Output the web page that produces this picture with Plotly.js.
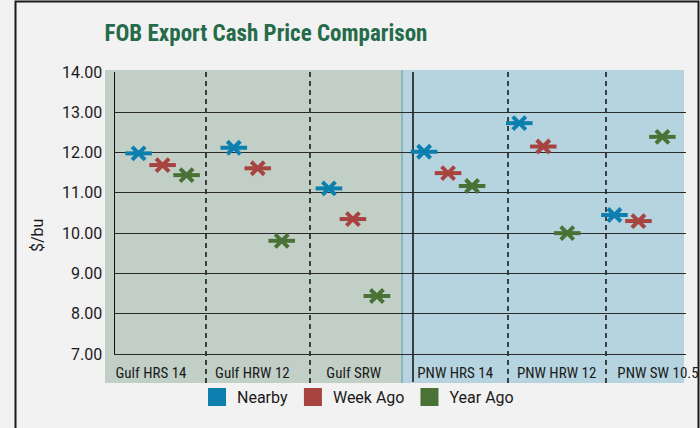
<!DOCTYPE html>
<html>
<head>
<meta charset="utf-8">
<script src="https://cdn.plot.ly/plotly-3.0.1.min.js"></script>
<style>
  html, body { margin: 0; padding: 0; background: #f2f2f2; }
  #chart { width: 700px; height: 428px; }
</style>
</head>
<body>
<div id="chart"></div>
<script>
// ---- data ----
const categories = ['Gulf HRS 14', 'Gulf HRW 12', 'Gulf SRW', 'PNW HRS 14', 'PNW HRW 12', 'PNW SW 10.5'];
const seriesNames = ['Nearby', 'Week Ago', 'Year Ago'];
const nearby  = [11.98, 12.12, 11.11, 12.02, 12.73, 10.45];
const weekAgo = [11.69, 11.61, 10.35, 11.49, 12.15, 10.30];
const yearAgo = [11.44,  9.81,  8.44, 11.17, 10.00, 12.39];
const yTickVals = [7, 8, 9, 10, 11, 12, 13, 14];

// ---- styles ----
const seriesColors = ['#0c7fae', '#a8443f', '#4a7236'];
const seriesOffsets = [-0.252, 0, 0.252];
const condensed = '"Liberation Sans Narrow", "Roboto Condensed", Roboto, sans-serif';
const regular = 'Roboto, "Liberation Sans", sans-serif';

const seriesValues = [nearby, weekAgo, yearAgo];
const traces = [];
seriesValues.forEach((vals, s) => {
  const xs = vals.map((v, i) => i + seriesOffsets[s]);
  // horizontal bar of the marker
  traces.push({
    type: 'scatter', mode: 'markers', x: xs, y: vals, showlegend: false, hoverinfo: 'skip',
    marker: { symbol: 'line-ew-open', size: 19, color: seriesColors[s], line: { width: 4, color: seriesColors[s] } }
  });
  // diagonal cross of the marker
  traces.push({
    type: 'scatter', mode: 'markers', x: xs, y: vals, showlegend: false, hoverinfo: 'skip',
    marker: { symbol: 'x-thin-open', size: 13, color: seriesColors[s], line: { width: 4, color: seriesColors[s] } }
  });
});
// legend entries (square swatches), attached to the label axis
seriesNames.forEach((name, s) => {
  traces.push({
    type: 'scatter', mode: 'markers', x: [null], y: [null], name: name, xaxis: 'x2', hoverinfo: 'skip',
    marker: { symbol: 'square', size: 16, color: seriesColors[s], line: { width: 2, color: seriesColors[s] } }
  });
});

// pixel -> paper helpers for decorations (plot area 115..686 x 72..354)
const L = 115, R = 686, T = 72, B = 354;
const px = p => (p - L) / (R - L);
const py = p => (B - p) / (B - T);

const shapes = [
  { type: 'rect', xref: 'paper', yref: 'paper', x0: px(105), x1: px(403), y0: py(383), y1: py(70),
    fillcolor: '#c1cfc7', line: { width: 0 }, layer: 'below' },
  { type: 'rect', xref: 'paper', yref: 'paper', x0: px(401), x1: px(684), y0: py(383), y1: py(70),
    fillcolor: '#b6d4df', line: { width: 0 }, layer: 'below' },
  { type: 'rect', xref: 'paper', yref: 'paper', x0: px(401), x1: px(403), y0: py(383), y1: py(70),
    fillcolor: '#8fb5be', line: { width: 0 }, layer: 'below' },
];
[206, 310, 508, 606].forEach(p => shapes.push({
  type: 'line', xref: 'paper', yref: 'paper', x0: px(p), x1: px(p), y0: py(383), y1: 1,
  line: { color: '#111', width: 1.5, dash: '5px,4px' }, layer: 'below'
}));
shapes.push({ type: 'line', xref: 'paper', yref: 'paper', x0: px(413), x1: px(413), y0: py(382), y1: 1,
  line: { color: '#111', width: 1.5 }, layer: 'below' });
// outer frame
shapes.push({ type: 'rect', xref: 'paper', yref: 'paper', x0: px(15.5), x1: px(698.5), y0: py(440), y1: py(1.5),
  line: { color: '#1a1a1a', width: 2 }, fillcolor: 'rgba(0,0,0,0)' });

const layout = {
  width: 700, height: 428,
  margin: { l: L, r: 700 - R, t: T, b: 428 - B, pad: 0 },
  paper_bgcolor: '#f2f2f2',
  plot_bgcolor: 'rgba(0,0,0,0)',
  showlegend: true,
  title: {
    text: 'FOB Export Cash Price Comparison',
    font: { family: condensed, size: 23, color: '#256b4a', weight: 'bold' },
    xref: 'container', yref: 'container', x: 266 / 700, xanchor: 'center', y: 1 - 33 / 428, yanchor: 'middle'
  },
  xaxis: { range: [-0.5, 5.5], showticklabels: false, showgrid: false, zeroline: false,
    showline: true, linecolor: '#2a2a2a', linewidth: 1, fixedrange: true },
  xaxis2: {
    overlaying: 'x', anchor: 'y', side: 'bottom',
    range: [(L - 151) / 101.4, (R - 151) / 101.4],
    tickmode: 'array', tickvals: categories.map((c, i) => i), ticktext: categories,
    ticks: '', ticklabelstandoff: 8,
    tickfont: { family: condensed, size: 15, color: '#1a1a1a' },
    showgrid: false, zeroline: false, showline: false
  },
  yaxis: {
    range: [7, 14], tickmode: 'array', tickvals: yTickVals, tickformat: '.2f',
    ticks: '', ticklabelstandoff: 8,
    tickfont: { family: regular, size: 16, color: '#1a1a1a' },
    showgrid: true, gridcolor: '#2a2a2a', gridwidth: 1,
    zeroline: false, showline: true, linecolor: '#111', linewidth: 1.5
  },
  legend: {
    orientation: 'h', x: px(358), xanchor: 'center', y: py(397), yanchor: 'middle',
    font: { family: regular, size: 16, color: '#1a1a1a' }, bgcolor: 'rgba(0,0,0,0)',
    itemwidth: 30, tracegroupgap: 0
  },
  annotations: [{
    text: '$/bu', xref: 'paper', yref: 'paper', x: px(37), y: py(236), showarrow: false,
    textangle: -90, xanchor: 'center', yanchor: 'middle',
    font: { family: regular, size: 16, color: '#1a1a1a' }
  }],
  shapes: shapes
};

Plotly.newPlot('chart', traces, layout, { displayModeBar: false, staticPlot: true });
</script>
</body>
</html>
